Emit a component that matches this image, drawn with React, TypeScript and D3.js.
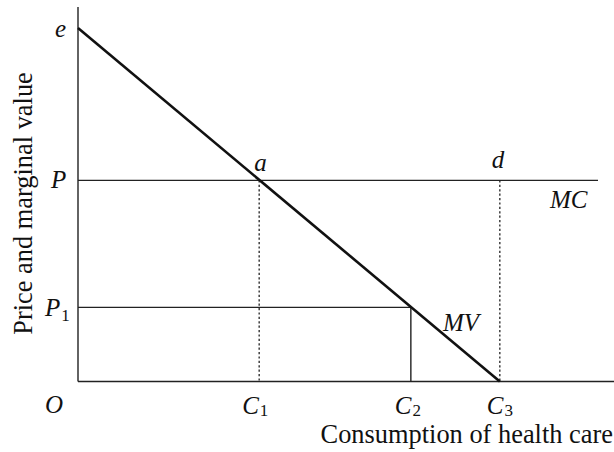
import React from "react";
import * as d3 from "d3";

// Values (arbitrary units, axes 0..100)
const priceLevels = [
  { key: "e", value: 94.4 },
  { key: "P", value: 53.7 },
  { key: "P1", value: 19.8 },
];
const quantityLevels = [
  { key: "C1", value: 33.8 },
  { key: "C2", value: 62.1 },
  { key: "C3", value: 78.7 },
];
const mvCurve: [number, number][] = [
  [0, 94.4],
  [78.7, 0],
];
const axisLabels = { x: "Consumption of health care", y: "Price and marginal value" };

const W = 614;
const H = 452;
const FONT = "'Liberation Serif', 'Times New Roman', Times, serif";

export default function App() {
  const x = d3.scaleLinear().domain([0, 100]).range([78, 614]);
  const y = d3.scaleLinear().domain([0, 100]).range([381.5, 7]);
  const pv = (k: string) => priceLevels.find((d) => d.key === k)!.value;
  const qv = (k: string) => quantityLevels.find((d) => d.key === k)!.value;
  const line = d3
    .line<[number, number]>()
    .x((d) => x(d[0]))
    .y((d) => y(d[1]));

  const thin = { stroke: "#222", strokeWidth: 1.4, fill: "none" };
  const dotted = { stroke: "#222", strokeWidth: 1.3, strokeDasharray: "2.2,2.2", fill: "none" };
  const it = { fontFamily: FONT, fontStyle: "italic" as const, fontSize: 25, fill: "#111" };
  const sub = { fontFamily: FONT, fontSize: 17, fill: "#111", fontStyle: "normal" as const };

  const P = pv("P");
  const P1 = pv("P1");
  const e = pv("e");
  const C1 = qv("C1");
  const C2 = qv("C2");
  const C3 = qv("C3");

  return (
    <svg
      width={W}
      height={H}
      style={{ position: "absolute", left: 0, top: 0, background: "#fff" }}
    >
      <rect width={W} height={H} fill="#fff" />
      {/* axes */}
      <line x1={x(0)} x2={x(0)} y1={y(100)} y2={y(0)} {...thin} />
      <line x1={x(0)} x2={x(100)} y1={y(0)} y2={y(0)} {...thin} />
      {/* MC line at P */}
      <line x1={x(0)} x2={598} y1={y(P)} y2={y(P)} {...thin} />
      {/* P1 line */}
      <line x1={x(0)} x2={x(C2)} y1={y(P1)} y2={y(P1)} {...thin} />
      <line x1={x(C2)} x2={x(C2)} y1={y(P1)} y2={y(0)} {...thin} />
      {/* dotted verticals */}
      <line x1={x(C1)} x2={x(C1)} y1={y(P)} y2={y(0)} {...dotted} />
      <line x1={x(C3)} x2={x(C3)} y1={y(P)} y2={y(0)} {...dotted} />
      {/* MV curve */}
      <path d={line(mvCurve)!} stroke="#111" strokeWidth={2.6} fill="none" />

      {/* labels */}
      <text x={55} y={y(e) + 9} {...it}>e</text>
      <text x={51} y={y(P) + 8} {...it}>P</text>
      <text x={45} y={y(P1) + 9} {...it}>
        P<tspan {...sub} dy={5} dx={1}>1</tspan>
      </text>
      <text x={45} y={413} {...it}>O</text>
      <text x={x(C1) - 17} y={414} {...it}>
        C<tspan {...sub} dy={2} dx={1}>1</tspan>
      </text>
      <text x={x(C2) - 16} y={414} {...it}>
        C<tspan {...sub} dy={2} dx={1}>2</tspan>
      </text>
      <text x={x(C3) - 13} y={414} {...it}>
        C<tspan {...sub} dy={2} dx={1}>3</tspan>
      </text>
      <text x={x(C1) - 5} y={y(P) - 9} {...it}>a</text>
      <text x={x(C3) - 8} y={y(P) - 12} {...it}>d</text>
      <text x={550} y={208} {...it}>MC</text>
      <text x={443} y={331} {...it}>MV</text>

      <text
        x={613}
        y={443}
        textAnchor="end"
        fontFamily={FONT}
        fontSize={26.4}
        fill="#111"
      >
        {axisLabels.x}
      </text>
      <text
        transform={`translate(32, 203.5) rotate(-90)`}
        textAnchor="middle"
        fontFamily={FONT}
        fontSize={26.4}
        fill="#111"
      >
        {axisLabels.y}
      </text>
    </svg>
  );
}
